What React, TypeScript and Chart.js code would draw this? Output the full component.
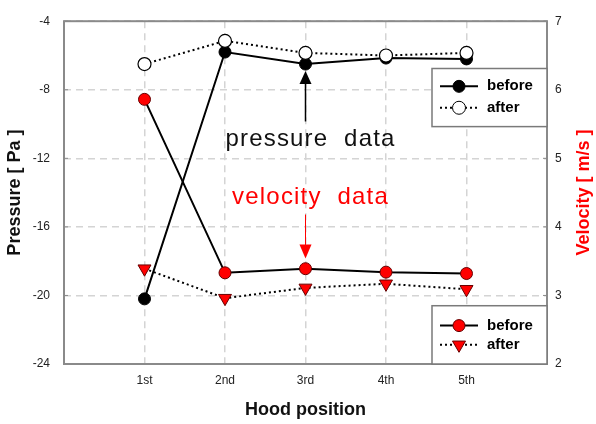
import React, { useEffect, useRef } from 'react';
import { Chart, registerables } from 'chart.js';

Chart.register(...registerables);

const categories = ['1st', '2nd', '3rd', '4th', '5th'];
const positions = [1, 2, 3, 4, 5];
const pressureBefore = [-20.2, -5.8, -6.5, -6.15, -6.2];
const pressureAfter = [-6.5, -5.15, -5.85, -6.0, -5.85];
const velocityBefore = [5.86, 3.33, 3.39, 3.34, 3.32];
const velocityAfter = [3.39, 2.96, 3.11, 3.17, 3.09];
const legendLabels = ['before', 'after'];

const FONT = 'Arial, "Liberation Sans", sans-serif';
const RED = '#ff0000';

function pts(values: number[]) {
  return values.map((v, i) => ({ x: positions[i], y: v }));
}

function drawMarker(ctx: CanvasRenderingContext2D, kind: string, x: number, y: number, r: number, fill: string, stroke: string) {
  ctx.save();
  ctx.setLineDash([]);
  ctx.beginPath();
  if (kind === 'circle') {
    ctx.arc(x, y, r, 0, Math.PI * 2);
  } else {
    ctx.moveTo(x - r * 0.87, y - r * 0.5);
    ctx.lineTo(x + r * 0.87, y - r * 0.5);
    ctx.lineTo(x, y + r);
    ctx.closePath();
  }
  ctx.fillStyle = fill;
  ctx.fill();
  ctx.lineWidth = 1;
  ctx.strokeStyle = stroke;
  ctx.stroke();
  ctx.restore();
}

function drawLegend(ctx: CanvasRenderingContext2D, left: number, top: number, right: number, bottom: number, kind: string, fills: string[], strokes: string[], rows: number[]) {
  ctx.save();
  ctx.fillStyle = '#ffffff';
  ctx.fillRect(left, top, right - left, bottom - top);
  ctx.strokeStyle = '#7a7a7a';
  ctx.lineWidth = 1.5;
  ctx.strokeRect(left, top, right - left, bottom - top);
  rows.forEach((ry, i) => {
    ctx.beginPath();
    ctx.strokeStyle = '#000';
    ctx.lineWidth = 2;
    ctx.setLineDash(i === 0 ? [] : [2, 3]);
    ctx.moveTo(left + 8, ry);
    ctx.lineTo(left + 46, ry);
    ctx.stroke();
    drawMarker(ctx, i === 0 ? 'circle' : kind, left + 27, ry, i === 0 ? 6 : (kind === 'circle' ? 6.5 : 7.5), fills[i], strokes[i]);
    ctx.setLineDash([]);
    ctx.fillStyle = '#000';
    ctx.font = 'bold 15px ' + FONT;
    ctx.textAlign = 'left';
    ctx.textBaseline = 'middle';
    ctx.fillText(legendLabels[i], left + 55, ry);
  });
  ctx.restore();
}

const decorPlugin = {
  id: 'decor',
  afterDraw(chart: any) {
    const { ctx, chartArea: a, scales } = chart;
    const xs = scales.x;
    const yp = scales.y;
    const yv = scales.y1;
    ctx.save();
    ctx.setLineDash([]);
    ctx.strokeStyle = '#8a8a8a';
    ctx.lineWidth = 2;
    ctx.strokeRect(a.left, a.top, a.right - a.left, a.bottom - a.top);
    ctx.lineWidth = 1;
    yp.ticks.forEach((t: any) => {
      const py = yp.getPixelForValue(t.value);
      ctx.beginPath();
      ctx.moveTo(a.left, py);
      ctx.lineTo(a.left + 4, py);
      ctx.stroke();
    });
    yv.ticks.forEach((t: any) => {
      const py = yv.getPixelForValue(t.value);
      ctx.beginPath();
      ctx.moveTo(a.right, py);
      ctx.lineTo(a.right - 4, py);
      ctx.stroke();
    });

    ctx.save();
    ctx.translate(584, (a.top + a.bottom) / 2);
    ctx.rotate(-Math.PI / 2);
    ctx.fillStyle = RED;
    ctx.font = 'bold 18px ' + FONT;
    ctx.textAlign = 'center';
    ctx.textBaseline = 'middle';
    ctx.fillText('Velocity [ m/s ]', 0, 0);
    ctx.restore();

    const x3 = xs.getPixelForValue(3);
    const tip = yp.getPixelForValue(-6.9);
    const tail = yp.getPixelForValue(-9.85);
    ctx.strokeStyle = '#000';
    ctx.fillStyle = '#000';
    ctx.lineWidth = 1.5;
    ctx.beginPath();
    ctx.moveTo(x3, tail);
    ctx.lineTo(x3, tip + 10);
    ctx.stroke();
    ctx.beginPath();
    ctx.moveTo(x3, tip);
    ctx.lineTo(x3 - 6, tip + 13);
    ctx.lineTo(x3 + 6, tip + 13);
    ctx.closePath();
    ctx.fill();

    ctx.font = '24px ' + FONT;
    (ctx as any).letterSpacing = '1.2px';
    ctx.textAlign = 'center';
    ctx.textBaseline = 'alphabetic';
    ctx.fillStyle = '#111';
    ctx.fillText('pressure  data', x3 + 5, yp.getPixelForValue(-11.3));
    ctx.fillStyle = RED;
    ctx.fillText('velocity  data', x3 + 5, yv.getPixelForValue(4.33));
    (ctx as any).letterSpacing = '0px';

    const rTop = yv.getPixelForValue(4.18);
    const rTip = yv.getPixelForValue(3.54);
    ctx.strokeStyle = RED;
    ctx.lineWidth = 1;
    ctx.beginPath();
    ctx.moveTo(x3, rTop);
    ctx.lineTo(x3, rTip - 10);
    ctx.stroke();
    ctx.beginPath();
    ctx.moveTo(x3, rTip);
    ctx.lineTo(x3 - 6, rTip - 14);
    ctx.lineTo(x3 + 6, rTip - 14);
    ctx.closePath();
    ctx.fill();

    drawLegend(ctx, 432, yp.getPixelForValue(-6.76), a.right, yp.getPixelForValue(-10.15), 'circle', ['#000', '#fff'], ['#000', '#000'], [yp.getPixelForValue(-7.8), yp.getPixelForValue(-9.05)]);
    drawLegend(ctx, 432, yv.getPixelForValue(2.85), a.right, a.bottom, 'triangle', [RED, RED], ['#600', '#600'], [yv.getPixelForValue(2.56), yv.getPixelForValue(2.28)]);
    ctx.restore();
  },
};

export default function App() {
  const ref = useRef<HTMLCanvasElement | null>(null);
  useEffect(() => {
    document.body.style.margin = '0';
    const canvas = ref.current;
    if (!canvas) return;
    const tickFont = { family: FONT, size: 12 };
    const titleFont = { family: FONT, size: 18, weight: 'bold' as const };
    const chart = new Chart(canvas, {
      type: 'line',
      data: {
        datasets: [
          {
            label: 'Pressure after',
            data: pts(pressureAfter),
            yAxisID: 'y',
            borderColor: '#000',
            borderWidth: 2,
            borderDash: [2, 3],
            pointStyle: 'circle',
            pointRadius: 6.5,
            pointBackgroundColor: '#fff',
            pointBorderColor: '#000',
            pointBorderWidth: 1.2,
          },
          {
            label: 'Pressure before',
            data: pts(pressureBefore),
            yAxisID: 'y',
            borderColor: '#000',
            borderWidth: 2,
            pointStyle: 'circle',
            pointRadius: 6,
            pointBackgroundColor: '#000',
            pointBorderColor: '#000',
            pointBorderWidth: 1,
          },
          {
            label: 'Velocity before',
            data: pts(velocityBefore),
            yAxisID: 'y1',
            borderColor: '#000',
            borderWidth: 2,
            pointStyle: 'circle',
            pointRadius: 6,
            pointBackgroundColor: RED,
            pointBorderColor: '#600',
            pointBorderWidth: 1,
          },
          {
            label: 'Velocity after',
            data: pts(velocityAfter),
            yAxisID: 'y1',
            borderColor: '#000',
            borderWidth: 2,
            borderDash: [2, 3],
            pointStyle: 'triangle',
            pointRotation: 180,
            pointRadius: 7.5,
            pointBackgroundColor: RED,
            pointBorderColor: '#600',
            pointBorderWidth: 1,
          },
        ],
      },
      options: {
        animation: false,
        responsive: false,
        layout: { padding: { top: 16, left: 0, right: 0, bottom: 0 } },
        plugins: { legend: { display: false }, tooltip: { enabled: false } },
        scales: {
          x: {
            type: 'linear',
            min: 0,
            max: 6,
            afterFit: (s: any) => { s.height = 60; },
            ticks: {
              stepSize: 1,
              autoSkip: false,
              maxRotation: 0,
              padding: 9,
              color: '#222',
              font: tickFont,
              callback: (v: any) => categories[Number(v) - 1] ?? '',
            },
            grid: { color: '#d4d4d4', lineWidth: 1.5, drawTicks: false },
            border: { display: false, dash: [7, 5] },
            title: { display: true, text: 'Hood position', color: '#111', font: titleFont, padding: { top: 0, bottom: 3 } },
          },
          y: {
            type: 'linear',
            position: 'left',
            min: -24,
            max: -4,
            afterFit: (s: any) => { s.width = 64; },
            ticks: { stepSize: 4, padding: 14, color: '#222', font: tickFont },
            grid: { color: '#d4d4d4', lineWidth: 1.5, drawTicks: false },
            border: { display: false, dash: [7, 5] },
            title: { display: true, text: 'Pressure [ Pa ]', color: '#111', font: titleFont, padding: { top: 4, bottom: 0 } },
          },
          y1: {
            type: 'linear',
            position: 'right',
            min: 2,
            max: 7,
            afterFit: (s: any) => { s.width = 49; },
            ticks: { stepSize: 1, padding: 8, color: '#222', font: tickFont },
            grid: { display: false, drawTicks: false },
            border: { display: false },
          },
        },
      },
      plugins: [decorPlugin],
    });
    return () => chart.destroy();
  }, []);
  return (
    <div style={{ position: 'fixed', left: 0, top: 0, width: 596, height: 424, background: '#fff' }}>
      <canvas ref={ref} width={596} height={424} style={{ display: 'block', width: 596, height: 424 }} />
    </div>
  );
}
